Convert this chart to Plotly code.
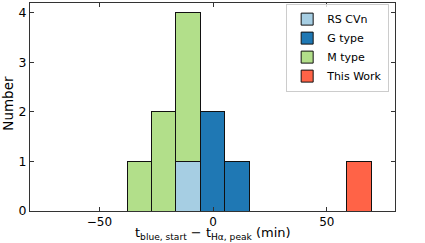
import plotly.graph_objects as go

bin_width = 10.73
bin_left_edges = [-37.8, -27.07, -16.34, -5.61, 5.12, 58.77]
rs_cvn = [0, 0, 1, 0, 0, 0]
g_type = [0, 0, 0, 2, 1, 0]
m_type = [1, 2, 3, 0, 0, 0]
this_work = [0, 0, 0, 0, 0, 1]

series = [
    ("RS CVn", rs_cvn, "#a6cee3"),
    ("G type", g_type, "#1f78b4"),
    ("M type", m_type, "#b2df8a"),
    ("This Work", this_work, "#ff6347"),
]

x_ticks = [-50, 0, 50]
y_ticks = [0, 1, 2, 3, 4]

centers = [e + bin_width / 2 for e in bin_left_edges]

fig = go.Figure()
for name, vals, color in series:
    fig.add_trace(go.Bar(
        x=centers, y=vals, width=[bin_width] * len(centers), name=name,
        marker=dict(color=color, line=dict(color="#111111", width=1)),
    ))

font = "DejaVu Sans"
L, R, T, B = 30, 30, 3, 32
fig.update_layout(
    barmode="stack",
    width=425, height=243,
    margin=dict(l=L, r=R, t=T, b=B, autoexpand=False),
    paper_bgcolor="white", plot_bgcolor="white",
    font=dict(family=font, size=12, color="black"),
    showlegend=True,
    legend=dict(
        x=0.984, y=0.997, xanchor="right", yanchor="top",
        bordercolor="#cccccc", borderwidth=1, bgcolor="rgba(255,255,255,0.8)",
        font=dict(size=11, family=font), traceorder="normal",
        itemwidth=30, tracegroupgap=0,
    ),
    xaxis=dict(
        range=[-80.5, 80], tickvals=x_ticks,
        ticktext=["\u221250", "0", "50"],
        ticks="inside", ticklen=4, tickcolor="#333",
        showline=True, linecolor="#333", linewidth=1, mirror="allticks",
        showgrid=False, zeroline=False, automargin=False,
        tickfont=dict(size=12),
    ),
    yaxis=dict(
        range=[0, 4.2], tickvals=y_ticks,
        ticks="inside", ticklen=4, tickcolor="#333",
        showline=True, linecolor="#333", linewidth=1, mirror="allticks",
        showgrid=False, zeroline=False, automargin=False,
        tickfont=dict(size=12.5),
    ),
    annotations=[
        dict(text="t<sub>blue, start</sub> \u2212 t<sub>H\u03b1, peak</sub> (min)",
             xref="paper", yref="paper", x=0.5, y=-0.16, xanchor="center", yanchor="bottom",
             showarrow=False, font=dict(size=13)),
        dict(text="Number", xref="paper", yref="paper", x=-0.088, y=0.52,
             xanchor="left", yanchor="middle", textangle=-90,
             showarrow=False, font=dict(size=13.5)),
    ],
)

fig.write_html("out.html", config={"displayModeBar": False},
               post_script="document.body.style.margin='0';document.body.style.overflow='hidden';")
